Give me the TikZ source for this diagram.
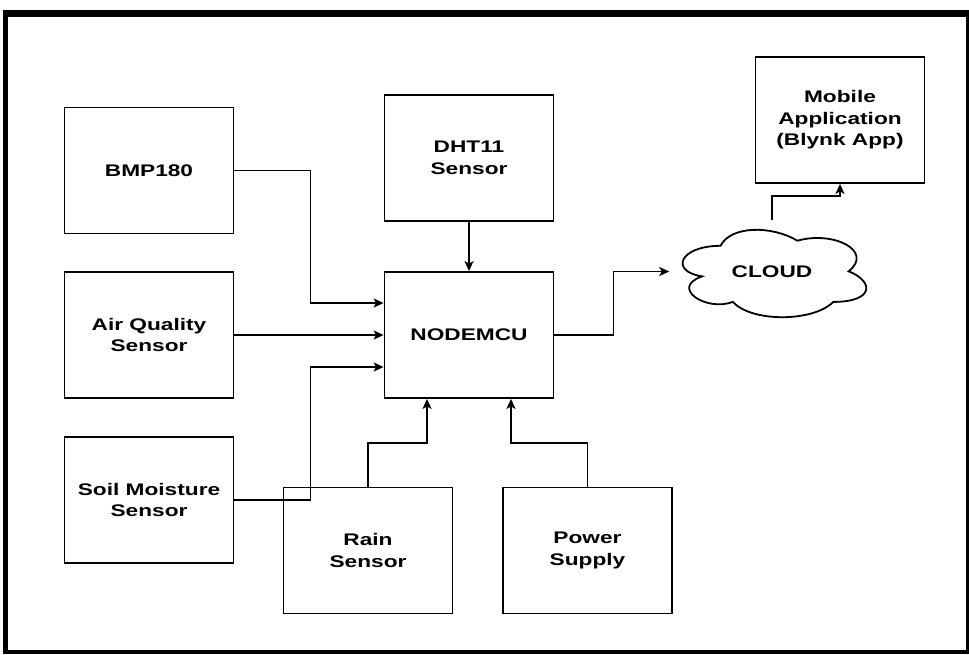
\documentclass[tikz,border=0pt]{standalone}
\usepackage{fontspec}
\setmainfont{Liberation Sans}[FakeStretch=1.35]
\usetikzlibrary{arrows.meta,calc}
\begin{document}
\begin{tikzpicture}[x=1pt,y=-1pt,
  box/.style={draw=black,line width=1.8pt,inner sep=0pt,minimum width=169pt,minimum height=126pt,
    align=center,font=\fontsize{16.8}{21.5}\selectfont\bfseries},
  conn/.style={draw=black,line width=1.8pt,-{Stealth[length=10pt,width=9pt,inset=2.5pt]}},
  cloudline/.style={draw=black,line width=1.8pt}]
\useasboundingbox (0,0) rectangle (969,654);
% frame
\fill[black] (3,10) rectangle (969,654);
\fill[white] (8,17) rectangle (966,650);
% nodes
\node[box] (bmp) at (149,170.5) {BMP180};
\node[box] (aq) at (149,335) {Air Quality\\Sensor};
\node[box] (sm) at (149,500) {Soil Moisture\\Sensor};
\node[box] (dht) at (469,158) {DHT11\\Sensor};
\node[box] (nodemcu) at (469,335) {NODEMCU};
\node[box] (rain) at (368,550.5) {Rain\\Sensor};
\node[box] (power) at (587.5,550.5) {Power\\Supply};
\node[box] (mobile) at (840,120) {Mobile\\Application\\(Blynk App)};
\node[inner sep=0pt,minimum width=205pt,minimum height=102pt,font=\fontsize{16.8}{21.5}\selectfont\bfseries] (cloud) at (772,271.5) {CLOUD};
\begin{scope}[shift={(cloud.north west)},x=205pt,y=-102pt]
\draw[cloudline] (0.25,0.25) .. controls (0.05,0.25) and (0,0.5) .. (0.16,0.55)
  .. controls (0,0.66) and (0.18,0.9) .. (0.31,0.8)
  .. controls (0.4,1) and (0.7,1) .. (0.8,0.8)
  .. controls (1,0.8) and (1,0.6) .. (0.875,0.5)
  .. controls (1,0.3) and (0.8,0.1) .. (0.625,0.2)
  .. controls (0.5,0.05) and (0.3,0.05) .. (0.25,0.25) -- cycle;
\end{scope}
% connectors
\draw[conn] (bmp.east) -- ++(76,0) |- ($(nodemcu.west)+(0,-32)$);
\draw[conn] (aq.east) -- (nodemcu.west);
\draw[conn] (sm.east) -- ++(76,0) |- ($(nodemcu.west)+(0,32)$);
\draw[conn] (dht.south) -- (nodemcu.north);
\draw[conn] (rain.north) -- ++(0,-44) -| ($(nodemcu.south)+(-42,0)$);
\draw[conn] (power.north) -- ++(0,-44) -| ($(nodemcu.south)+(42,0)$);
\draw[conn] (nodemcu.east) -- ++(59,0) |- (cloud.west);
\draw[conn] (cloud.north) -- ++(0,-24.5) -| (mobile.south);
\end{tikzpicture}
\end{document}
